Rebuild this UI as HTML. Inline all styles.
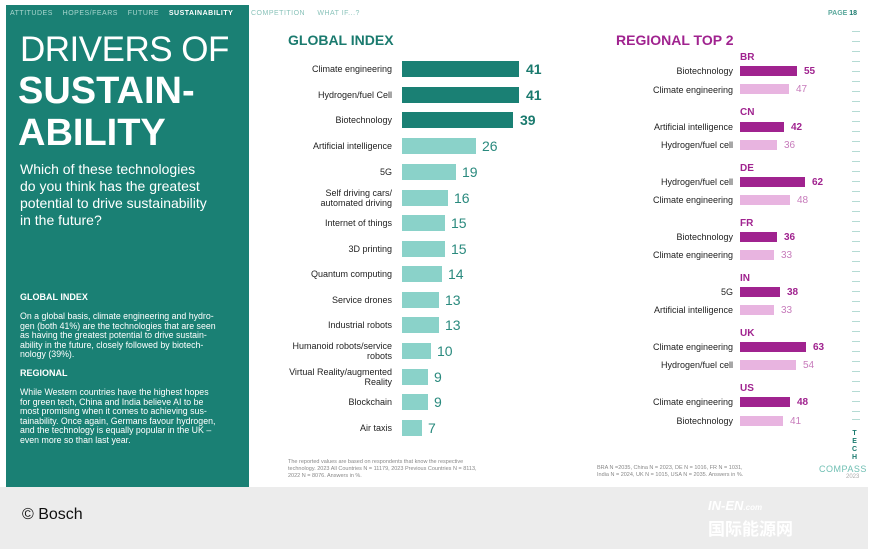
<!DOCTYPE html><html><head><style>
*{margin:0;padding:0;box-sizing:border-box}
body{width:875px;height:553px;position:relative;background:#fff;font-family:"Liberation Sans",sans-serif;overflow:hidden}
.a{position:absolute;white-space:nowrap}
.gl{position:absolute;right:483px;font-size:9px;color:#222;text-align:right;line-height:10px}
.gb{position:absolute;left:402px;height:16px}
.gv{position:absolute;font-size:14px;line-height:16px}
.rl{position:absolute;right:142px;font-size:9px;color:#222;line-height:10px}
.rb{position:absolute;left:740px;height:10px}
.rv{position:absolute;font-size:10px;line-height:10px;margin-top:1px}
.rc{position:absolute;left:740px;font-size:10px;font-weight:bold;color:#a0238f}
.tk{position:absolute;left:852px;width:8px;height:1px;background:#b5dbd4}
</style></head><body>
<div class="a" style="left:0;top:487px;width:868px;height:62px;background:#ececec"></div>
<div class="a" style="left:22px;top:506px;font-size:16px;color:#111">© Bosch</div>
<div class="a" style="left:6px;top:5px;width:243px;height:482px;background:#1a8074"></div>
<div class="a" style="left:10px;top:10px;font-size:7px;color:#a9d6cf;letter-spacing:.5px">ATTITUDES&nbsp;&nbsp;&nbsp;&nbsp;HOPES/FEARS&nbsp;&nbsp;&nbsp;&nbsp;FUTURE&nbsp;&nbsp;&nbsp;&nbsp;<b style="color:#fff">SUSTAINABILITY</b></div>
<div class="a" style="left:251px;top:10px;font-size:7px;color:#8ac3ba;letter-spacing:.5px">COMPETITION&nbsp;&nbsp;&nbsp;&nbsp;&nbsp;WHAT IF...?</div>
<div class="a" style="left:20px;top:31px;font-size:35px;color:#fff;line-height:38px;letter-spacing:-0.5px">DRIVERS OF</div>
<div class="a" style="left:18px;top:71px;font-size:38px;color:#fff;font-weight:bold;line-height:40px">SUSTAIN-</div>
<div class="a" style="left:18px;top:113px;font-size:38px;color:#fff;font-weight:bold;line-height:40px">ABILITY</div>
<div class="a" style="left:20px;top:161px;font-size:14px;color:#fff;line-height:17px">Which of these technologies<br>do you think has the greatest<br>potential to drive sustainability<br>in the future?</div>
<div class="a" style="left:20px;top:292px;font-size:9px;color:#fff;font-weight:bold">GLOBAL INDEX</div>
<div class="a" style="left:20px;top:312px;font-size:8.8px;color:#fff;line-height:9.5px">On a global basis, climate engineering and hydro-<br>gen (both 41%) are the technologies that are seen<br>as having the greatest potential to drive sustain-<br>ability in the future, closely followed by biotech-<br>nology (39%).</div>
<div class="a" style="left:20px;top:368px;font-size:9px;color:#fff;font-weight:bold">REGIONAL</div>
<div class="a" style="left:20px;top:388px;font-size:8.8px;color:#fff;line-height:9.5px">While Western countries have the highest hopes<br>for green tech, China and India believe AI to be<br>most promising when it comes to achieving sus-<br>tainability. Once again, Germans favour hydrogen,<br>and the technology is equally popular in the UK –<br>even more so than last year.</div>

<div class="a" style="left:288px;top:32px;font-size:14px;font-weight:bold;color:#1a7a6e">GLOBAL INDEX</div>
<div class="a" style="left:616px;top:32px;font-size:14px;font-weight:bold;color:#a0238f">REGIONAL TOP 2</div>
<div class="a" style="left:828px;top:10px;font-size:7px;color:#5aa89c;font-weight:bold">PAGE <span style="color:#1a7a6e">18</span></div>

<div class="gl" style="top:64px">Climate engineering</div><div class="gb" style="top:61px;width:117px;background:#1a8074"></div><div class="gv" style="top:61px;left:526px;font-weight:bold;color:#1a7a6e">41</div>
<div class="gl" style="top:90px">Hydrogen/fuel Cell</div><div class="gb" style="top:87px;width:117px;background:#1a8074"></div><div class="gv" style="top:87px;left:526px;font-weight:bold;color:#1a7a6e">41</div>
<div class="gl" style="top:115px">Biotechnology</div><div class="gb" style="top:112px;width:111px;background:#1a8074"></div><div class="gv" style="top:112px;left:520px;font-weight:bold;color:#1a7a6e">39</div>
<div class="gl" style="top:141px">Artificial intelligence</div><div class="gb" style="top:138px;width:74px;background:#8ad2c9"></div><div class="gv" style="top:138px;left:482px;color:#2a8a7e">26</div>
<div class="gl" style="top:167px">5G</div><div class="gb" style="top:164px;width:54px;background:#8ad2c9"></div><div class="gv" style="top:164px;left:462px;color:#2a8a7e">19</div>
<div class="gl" style="top:188px">Self driving cars/<br>automated driving</div><div class="gb" style="top:190px;width:46px;background:#8ad2c9"></div><div class="gv" style="top:190px;left:454px;color:#2a8a7e">16</div>
<div class="gl" style="top:218px">Internet of things</div><div class="gb" style="top:215px;width:43px;background:#8ad2c9"></div><div class="gv" style="top:215px;left:451px;color:#2a8a7e">15</div>
<div class="gl" style="top:244px">3D printing</div><div class="gb" style="top:241px;width:43px;background:#8ad2c9"></div><div class="gv" style="top:241px;left:451px;color:#2a8a7e">15</div>
<div class="gl" style="top:269px">Quantum computing</div><div class="gb" style="top:266px;width:40px;background:#8ad2c9"></div><div class="gv" style="top:266px;left:448px;color:#2a8a7e">14</div>
<div class="gl" style="top:295px">Service drones</div><div class="gb" style="top:292px;width:37px;background:#8ad2c9"></div><div class="gv" style="top:292px;left:445px;color:#2a8a7e">13</div>
<div class="gl" style="top:320px">Industrial robots</div><div class="gb" style="top:317px;width:37px;background:#8ad2c9"></div><div class="gv" style="top:317px;left:445px;color:#2a8a7e">13</div>
<div class="gl" style="top:341px">Humanoid robots/service<br>robots</div><div class="gb" style="top:343px;width:29px;background:#8ad2c9"></div><div class="gv" style="top:343px;left:437px;color:#2a8a7e">10</div>
<div class="gl" style="top:367px">Virtual Reality/augmented<br>Reality</div><div class="gb" style="top:369px;width:26px;background:#8ad2c9"></div><div class="gv" style="top:369px;left:434px;color:#2a8a7e">9</div>
<div class="gl" style="top:397px">Blockchain</div><div class="gb" style="top:394px;width:26px;background:#8ad2c9"></div><div class="gv" style="top:394px;left:434px;color:#2a8a7e">9</div>
<div class="gl" style="top:423px">Air taxis</div><div class="gb" style="top:420px;width:20px;background:#8ad2c9"></div><div class="gv" style="top:420px;left:428px;color:#2a8a7e">7</div>
<div class="a" style="left:288px;top:459px;font-size:5.5px;color:#888;line-height:7px">The reported values are based on respondents that know the respective<br>technology. 2023 All Countries N = 11179, 2023 Previous Countries N = 8113,<br>2022 N = 8076. Answers in %.</div>

<div class="rc" style="top:52px">BR</div>
<div class="rl" style="top:66px">Biotechnology</div><div class="rb" style="top:66px;width:57px;background:#a0238f"></div><div class="rv" style="top:66px;left:804px;font-weight:bold;color:#a0238f">55</div>
<div class="rl" style="top:85px">Climate engineering</div><div class="rb" style="top:84px;width:49px;background:#e8b4e0"></div><div class="rv" style="top:84px;left:796px;color:#c77bbb">47</div>
<div class="rc" style="top:107px">CN</div>
<div class="rl" style="top:122px">Artificial intelligence</div><div class="rb" style="top:122px;width:44px;background:#a0238f"></div><div class="rv" style="top:122px;left:791px;font-weight:bold;color:#a0238f">42</div>
<div class="rl" style="top:140px">Hydrogen/fuel cell</div><div class="rb" style="top:140px;width:37px;background:#e8b4e0"></div><div class="rv" style="top:140px;left:784px;color:#c77bbb">36</div>
<div class="rc" style="top:163px">DE</div>
<div class="rl" style="top:177px">Hydrogen/fuel cell</div><div class="rb" style="top:177px;width:65px;background:#a0238f"></div><div class="rv" style="top:177px;left:812px;font-weight:bold;color:#a0238f">62</div>
<div class="rl" style="top:195px">Climate engineering</div><div class="rb" style="top:195px;width:50px;background:#e8b4e0"></div><div class="rv" style="top:195px;left:797px;color:#c77bbb">48</div>
<div class="rc" style="top:218px">FR</div>
<div class="rl" style="top:232px">Biotechnology</div><div class="rb" style="top:232px;width:37px;background:#a0238f"></div><div class="rv" style="top:232px;left:784px;font-weight:bold;color:#a0238f">36</div>
<div class="rl" style="top:250px">Climate engineering</div><div class="rb" style="top:250px;width:34px;background:#e8b4e0"></div><div class="rv" style="top:250px;left:781px;color:#c77bbb">33</div>
<div class="rc" style="top:273px">IN</div>
<div class="rl" style="top:287px">5G</div><div class="rb" style="top:287px;width:40px;background:#a0238f"></div><div class="rv" style="top:287px;left:787px;font-weight:bold;color:#a0238f">38</div>
<div class="rl" style="top:305px">Artificial intelligence</div><div class="rb" style="top:305px;width:34px;background:#e8b4e0"></div><div class="rv" style="top:305px;left:781px;color:#c77bbb">33</div>
<div class="rc" style="top:328px">UK</div>
<div class="rl" style="top:342px">Climate engineering</div><div class="rb" style="top:342px;width:66px;background:#a0238f"></div><div class="rv" style="top:342px;left:813px;font-weight:bold;color:#a0238f">63</div>
<div class="rl" style="top:360px">Hydrogen/fuel cell</div><div class="rb" style="top:360px;width:56px;background:#e8b4e0"></div><div class="rv" style="top:360px;left:803px;color:#c77bbb">54</div>
<div class="rc" style="top:383px">US</div>
<div class="rl" style="top:397px">Climate engineering</div><div class="rb" style="top:397px;width:50px;background:#a0238f"></div><div class="rv" style="top:397px;left:797px;font-weight:bold;color:#a0238f">48</div>
<div class="rl" style="top:416px">Biotechnology</div><div class="rb" style="top:416px;width:43px;background:#e8b4e0"></div><div class="rv" style="top:416px;left:790px;color:#c77bbb">41</div>
<div class="a" style="left:597px;top:465px;font-size:5.5px;color:#888;line-height:7px">BRA N =2035, China N = 2023, DE N = 1016, FR N = 1031,<br>India N = 2024, UK N = 1015, USA N = 2035. Answers in %.</div>

<div class="a" style="left:852px;top:430px;font-size:7px;font-weight:bold;color:#1a7a6e;line-height:8px;text-align:center">T<br>E<br>C<br>H</div>
<div class="a" style="left:819px;top:464px;font-size:9px;color:#6fbfb3;letter-spacing:.5px">COMPASS</div>
<div class="a" style="left:846px;top:474px;font-size:6px;color:#aaa">2023</div>
<div class="a" style="left:708px;top:498px;font-size:13px;font-weight:bold;color:#fff;font-style:italic">IN-EN<span style="font-size:8px">.com</span></div>
<div class="a" style="left:708px;top:515px;font-size:17px;font-weight:bold;color:#fff;font-family:'Noto Sans CJK SC',sans-serif">国际能源网</div>

<div class="tk" style="top:31px"></div><div class="tk" style="top:41px"></div><div class="tk" style="top:51px"></div><div class="tk" style="top:61px"></div><div class="tk" style="top:71px"></div><div class="tk" style="top:81px"></div><div class="tk" style="top:91px"></div><div class="tk" style="top:101px"></div><div class="tk" style="top:111px"></div><div class="tk" style="top:121px"></div><div class="tk" style="top:131px"></div><div class="tk" style="top:141px"></div><div class="tk" style="top:151px"></div><div class="tk" style="top:161px"></div><div class="tk" style="top:171px"></div><div class="tk" style="top:181px"></div><div class="tk" style="top:191px"></div><div class="tk" style="top:201px"></div><div class="tk" style="top:211px"></div><div class="tk" style="top:221px"></div><div class="tk" style="top:231px"></div><div class="tk" style="top:241px"></div><div class="tk" style="top:251px"></div><div class="tk" style="top:261px"></div><div class="tk" style="top:271px"></div><div class="tk" style="top:281px"></div><div class="tk" style="top:291px"></div><div class="tk" style="top:301px"></div><div class="tk" style="top:311px"></div><div class="tk" style="top:321px"></div><div class="tk" style="top:331px"></div><div class="tk" style="top:341px"></div><div class="tk" style="top:351px"></div><div class="tk" style="top:361px"></div><div class="tk" style="top:371px"></div><div class="tk" style="top:381px"></div><div class="tk" style="top:391px"></div><div class="tk" style="top:401px"></div><div class="tk" style="top:411px"></div><div class="tk" style="top:419px"></div>
</body></html>
